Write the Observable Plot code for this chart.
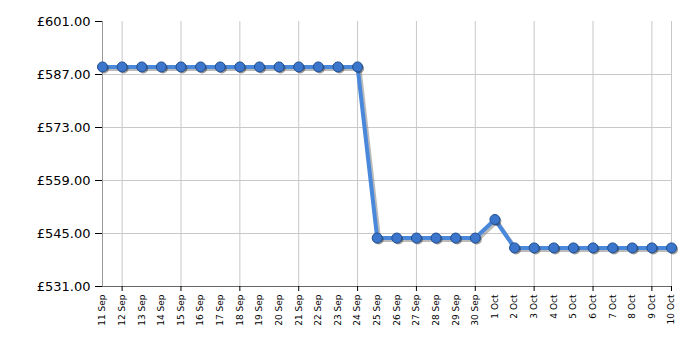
<!DOCTYPE html>
<html>
<head>
<meta charset="utf-8">
<script src="https://cdn.jsdelivr.net/npm/d3@7"></script>
<script src="https://cdn.jsdelivr.net/npm/@observablehq/plot@0.6"></script>
<style>
  html, body { margin: 0; padding: 0; background: #fff; }
  #chart svg { display: block; }
</style>
</head>
<body>
<div id="chart"></div>
<script>
const dates = ["11 Sep","12 Sep","13 Sep","14 Sep","15 Sep","16 Sep","17 Sep","18 Sep","19 Sep","20 Sep",
  "21 Sep","22 Sep","23 Sep","24 Sep","25 Sep","26 Sep","27 Sep","28 Sep","29 Sep","30 Sep",
  "1 Oct","2 Oct","3 Oct","4 Oct","5 Oct","6 Oct","7 Oct","8 Oct","9 Oct","10 Oct"];
const prices = [589,589,589,589,589,589,589,589,589,589,589,589,589,589,
  543.8,543.8,543.8,543.8,543.8,543.8,
  548.7,
  541.2,541.2,541.2,541.2,541.2,541.2,541.2,541.2,541.2];
const yTicks = [531,545,559,573,587,601];
const xGridIdx = [1,4,7,10,13,16,19,22,25,28,29];

const data = dates.map((d, i) => ({i, d, p: prices[i]}));
const allIdx = dates.map((d, i) => i);

const chart = Plot.plot({
  width: 700,
  height: 350,
  marginLeft: 102,
  marginRight: 29,
  marginTop: 21,
  marginBottom: 64,
  style: {fontFamily: "DejaVu Sans, Verdana, sans-serif", background: "#fff", color: "#000"},
  x: {type: "linear", domain: [0, 29]},
  y: {domain: [531, 601]},
  marks: [
    Plot.gridY([545,559,573,587], {stroke: "#c8c8c8", strokeOpacity: 1}),
    Plot.gridX(xGridIdx, {stroke: "#c8c8c8", strokeOpacity: 1}),
    Plot.ruleX([0], {stroke: "#999"}),
    Plot.ruleY([531], {stroke: "#666"}),
    Plot.axisY({ticks: yTicks, tickFormat: d => "£" + d.toFixed(2), tickSize: 7, tickPadding: 5, fontSize: 13, label: null}),
    Plot.axisX({ticks: xGridIdx, tickFormat: () => "", tickSize: 5, label: null}),
    Plot.axisX({ticks: allIdx, tickFormat: i => dates[i], tickSize: 0, tickPadding: 8, tickRotate: -90, fontSize: 9, label: null}),
    Plot.line(data, {x: "i", y: "p", stroke: "#777", strokeWidth: 4, strokeOpacity: 0.5, dx: 2, dy: 2}),
    Plot.line(data, {x: "i", y: "p", stroke: "#4a88dc", strokeWidth: 4}),
    Plot.dot(data, {x: "i", y: "p", r: 5, fill: "#333", fillOpacity: 0.5, dx: 1.5, dy: 1.5}),
    Plot.dot(data, {x: "i", y: "p", r: 5, fill: "#3b76cc", stroke: "#1f4d8f", strokeWidth: 1})
  ]
});
document.getElementById("chart").append(chart);
</script>
</body>
</html>
